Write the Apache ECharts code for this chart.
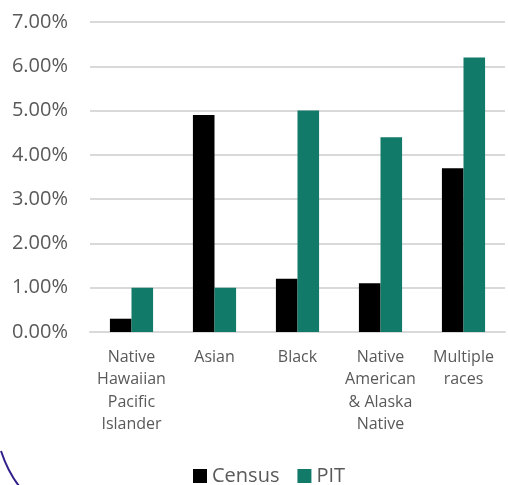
<!DOCTYPE html>
<html>
<head>
<meta charset="utf-8">
<script src="https://cdn.jsdelivr.net/npm/echarts@6/dist/echarts.min.js"></script>
<style>
  html, body { margin: 0; padding: 0; background: #fff; }
  #main { width: 508px; height: 485px; }
</style>
</head>
<body>
<div id="main"></div>
<script>
var categories = ['Native\nHawaiian\nPacific\nIslander', 'Asian', 'Black', 'Native\nAmerican\n& Alaska\nNative', 'Multiple\nraces'];
var census = [0.3, 4.9, 1.2, 1.1, 3.7];
var pit = [1.0, 1.0, 5.0, 4.4, 6.2];

var dom = document.getElementById('main');
var myChart = echarts.init(dom, null, { renderer: 'canvas' });

var option = {
  animation: false,
  textStyle: { fontFamily: 'Open Sans' },
  grid: { left: 90, right: 3, top: 22, bottom: 153 },
  legend: {
    bottom: -6,
    left: 188,
    itemWidth: 14,
    itemHeight: 14,
    itemGap: 18,
    icon: 'rect',
    textStyle: { fontSize: 20, color: '#595959', fontFamily: 'Open Sans' },
    data: ['Census', 'PIT']
  },
  xAxis: {
    type: 'category',
    data: categories,
    axisLine: { show: true, lineStyle: { color: '#d9d9d9', width: 2 } },
    axisTick: { show: false },
    axisLabel: {
      color: '#595959', fontSize: 16, lineHeight: 22.5, margin: 14,
      interval: 0, fontFamily: 'Open Sans'
    }
  },
  yAxis: {
    type: 'value',
    min: 0,
    max: 7,
    interval: 1,
    axisLine: { show: false },
    axisTick: { show: false },
    splitLine: { lineStyle: { color: '#d9d9d9', width: 2 } },
    axisLabel: {
      color: '#595959', fontSize: 20, margin: 22, fontFamily: 'Open Sans',
      formatter: function (v) { return v.toFixed(2) + '%'; }
    }
  },
  series: [
    {
      name: 'Census', type: 'bar', data: census,
      itemStyle: { color: '#000000' },
      barGap: '0%', barCategoryGap: '48%'
    },
    {
      name: 'PIT', type: 'bar', data: pit,
      itemStyle: { color: '#127a69' },
      barGap: '0%', barCategoryGap: '48%'
    }
  ],
  graphic: [
    {
      type: 'bezierCurve',
      shape: { x1: 1, y1: 451, x2: 19, y2: 486, cpx1: 6, cpy1: 466, cpx2: 12, cpy2: 477 },
      style: { stroke: '#2e1f8a', lineWidth: 2, fill: 'none' }
    }
  ]
};

myChart.setOption(option);
window.addEventListener('resize', myChart.resize);
</script>
</body>
</html>
